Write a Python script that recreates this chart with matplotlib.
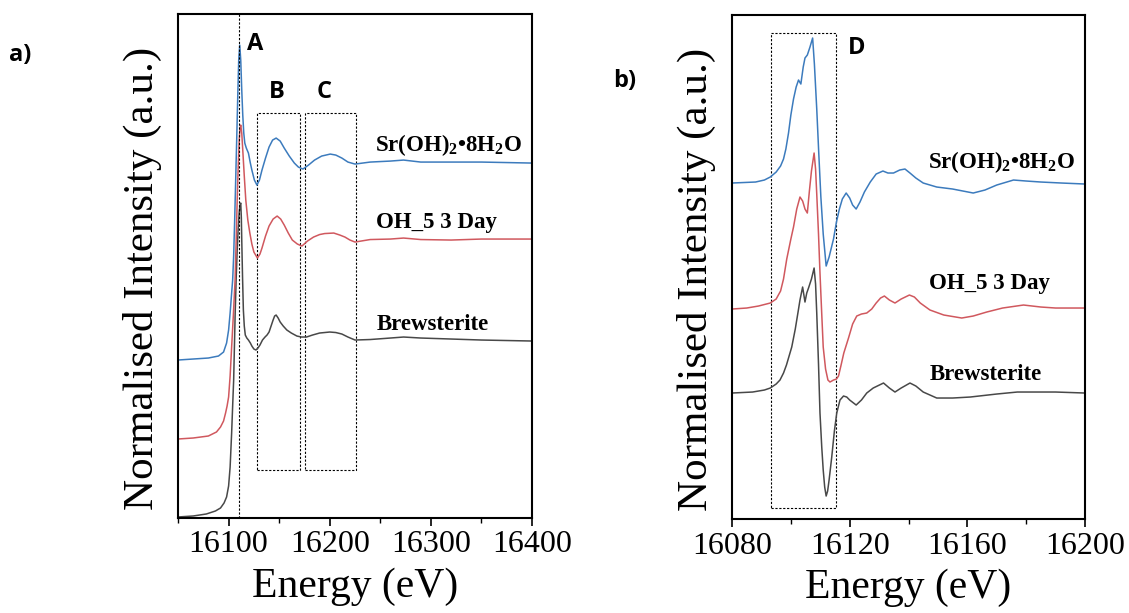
import matplotlib
matplotlib.use('Agg')
import matplotlib.pyplot as plt
from matplotlib.patches import Rectangle
from matplotlib.ticker import MultipleLocator

plt.rcParams['font.family'] = 'Liberation Serif'
plt.rcParams['mathtext.fontset'] = 'custom'
plt.rcParams['mathtext.rm'] = 'Liberation Serif:bold'
plt.rcParams['mathtext.bf'] = 'Liberation Serif:bold'
plt.rcParams['mathtext.default'] = 'rm'

BLUE = '#3c7bbd'
RED = '#d0585e'
GRAY = '#484848'

# ---- panel a) : full XANES, offset curves ----
e_sroh_a = [16050, 16065, 16080, 16090, 16095, 16098, 16100, 16101.5, 16103, 16104,
            16105, 16106, 16107, 16108, 16109, 16110, 16111, 16112, 16113, 16114,
            16115, 16116, 16117.5, 16119.6, 16121.5, 16123, 16125.5, 16128, 16130.5, 16133,
            16136.5, 16140, 16143.5, 16147, 16151, 16155, 16160, 16165, 16169, 16173.5,
            16179, 16185, 16192, 16200.5, 16206, 16212, 16218, 16225, 16240, 16260,
            16273, 16290, 16320, 16350, 16375, 16400]
i_sroh_a = [1.58, 1.59, 1.60, 1.62, 1.66, 1.75, 1.88, 2.05, 2.25, 2.38,
            2.62, 2.98, 3.38, 3.78, 4.20, 4.58, 4.73, 4.58, 4.28, 4.03,
            3.85, 3.75, 3.70, 3.65, 3.55, 3.48, 3.38, 3.33, 3.38, 3.48,
            3.60, 3.71, 3.78, 3.80, 3.77, 3.70, 3.62, 3.55, 3.51, 3.49,
            3.53, 3.58, 3.62, 3.64, 3.63, 3.60, 3.56, 3.54, 3.56, 3.57,
            3.58, 3.56, 3.56, 3.56, 3.555, 3.55]

e_oh5_a = [16050, 16065, 16080, 16088, 16092, 16095, 16097, 16098.5, 16100, 16101.5,
           16103, 16104.7, 16106.4, 16107.5, 16108.5, 16109.5, 16110.5, 16111.3, 16112, 16113,
           16114, 16115.5, 16117, 16119, 16121, 16123, 16125, 16128.5, 16131, 16133,
           16136.5, 16140, 16144, 16148, 16151.5, 16155, 16159, 16163, 16168, 16172.5,
           16178, 16184, 16190, 16195, 16204, 16210, 16215, 16220, 16225, 16240,
           16260, 16273, 16290, 16320, 16350, 16400]
i_oh5_a = [0.79, 0.80, 0.82, 0.86, 0.91, 0.97, 1.05, 1.12, 1.21, 1.42,
           1.71, 2.03, 2.38, 2.78, 3.18, 3.52, 3.78, 3.90, 3.93, 3.85,
           3.68, 3.42, 3.18, 2.98, 2.85, 2.74, 2.66, 2.60, 2.64, 2.70,
           2.82, 2.92, 2.99, 3.02, 2.99, 2.93, 2.85, 2.78, 2.74, 2.72,
           2.77, 2.81, 2.835, 2.845, 2.85, 2.83, 2.81, 2.78, 2.76, 2.785,
           2.79, 2.80, 2.785, 2.78, 2.79, 2.79]

e_brew_a = [16050, 16065, 16078, 16087, 16092, 16095.5, 16098, 16100, 16101.5, 16103,
            16104, 16105, 16106.5, 16107.5, 16108.5, 16109.5, 16110.5, 16111.3, 16112, 16112.6,
            16113, 16113.8, 16114.6, 16115.5, 16116.5, 16118, 16119.6, 16121.5, 16123, 16125,
            16127, 16129, 16131, 16133.5, 16136, 16138, 16140, 16142, 16144, 16145.5,
            16147, 16149, 16151, 16154, 16157.6, 16162, 16167.5, 16172, 16177, 16183,
            16190, 16200, 16206, 16212, 16218, 16225, 16240, 16260, 16273, 16290,
            16320, 16350, 16400]
i_brew_a = [0.01, 0.02, 0.04, 0.07, 0.10, 0.15, 0.21, 0.32, 0.51, 0.85,
            1.12, 1.38, 2.05, 2.40, 2.68, 2.90, 3.06, 3.13, 3.15, 3.00,
            2.78, 2.40, 2.08, 1.92, 1.83, 1.80, 1.78, 1.75, 1.72, 1.69,
            1.68, 1.70, 1.73, 1.78, 1.81, 1.83, 1.86, 1.92, 1.98, 2.02,
            2.03, 2.00, 1.96, 1.92, 1.88, 1.85, 1.82, 1.81, 1.81, 1.83,
            1.85, 1.86, 1.855, 1.84, 1.81, 1.78, 1.785, 1.80, 1.81, 1.80,
            1.79, 1.78, 1.77]

# ---- panel b) : edge region, derivative-like curves ----
e_sroh_b = [16080, 16084, 16088, 16091, 16093, 16095, 16096.5, 16097.5, 16098.3, 16099.2,
            16100, 16100.9, 16101.8, 16102.6, 16103.4, 16104.2, 16104.8, 16105.6, 16106.5, 16107.4,
            16108, 16108.8, 16109.5, 16110.2, 16111, 16112, 16113, 16114.5, 16115.5, 16116.5,
            16117.5, 16118.8, 16120, 16121, 16122.2, 16123.5, 16125, 16127, 16129, 16131.3,
            16133, 16134.9, 16137, 16138.8, 16140.5, 16142.5, 16145, 16149.6, 16155, 16162,
            16166, 16170, 16175.7, 16180, 16185, 16192, 16200]
i_sroh_b = [3.36, 3.365, 3.37, 3.39, 3.42, 3.47, 3.53, 3.60, 3.70, 3.86,
            4.04, 4.20, 4.32, 4.39, 4.35, 4.52, 4.61, 4.64, 4.72, 4.81,
            4.55, 4.10, 3.65, 3.22, 2.85, 2.53, 2.62, 2.80, 2.97, 3.10,
            3.20, 3.26, 3.21, 3.14, 3.10, 3.17, 3.27, 3.37, 3.45, 3.48,
            3.46, 3.46, 3.49, 3.50, 3.46, 3.41, 3.36, 3.32, 3.30, 3.26,
            3.29, 3.34, 3.39, 3.38, 3.37, 3.36, 3.35]

e_oh5_b = [16080, 16085, 16089, 16093, 16095, 16096.5, 16097.5, 16098.6, 16100, 16100.9,
           16102, 16103.1, 16104, 16104.8, 16105.6, 16106.3, 16107, 16107.9, 16108.4, 16108.8,
           16109.4, 16109.9, 16110.5, 16111, 16111.8, 16112.6, 16113.3, 16114.5, 16115.5, 16116.2,
           16117, 16118, 16119.6, 16121, 16122.4, 16124, 16125.8, 16127.5, 16129, 16130.5,
           16131.8, 16133.5, 16135.4, 16137.5, 16140.3, 16142, 16144, 16147.3, 16152, 16158.1,
           16162, 16166.6, 16172, 16179.1, 16185, 16190, 16200]
i_oh5_b = [2.10, 2.11, 2.13, 2.16, 2.20, 2.28, 2.40, 2.60, 2.80, 2.92,
           3.10, 3.22, 3.18, 3.10, 3.06, 3.28, 3.48, 3.66, 3.50, 3.25,
           2.85, 2.46, 2.05, 1.72, 1.50, 1.39, 1.37, 1.39, 1.40, 1.43,
           1.53, 1.66, 1.81, 1.95, 2.03, 2.05, 2.06, 2.10, 2.16, 2.21,
           2.23, 2.19, 2.16, 2.20, 2.24, 2.22, 2.16, 2.09, 2.04, 2.01,
           2.03, 2.07, 2.11, 2.14, 2.12, 2.11, 2.11]

e_brew_b = [16080, 16087, 16091, 16093, 16095, 16096.3, 16097.5, 16098.5, 16099.5, 16100.3,
            16101.5, 16102.5, 16103.1, 16104, 16104.8, 16105.4, 16106, 16107, 16107.9, 16108.4,
            16108.8, 16109.4, 16109.9, 16110.5, 16111, 16111.5, 16112, 16112.5, 16113, 16113.9,
            16114.8, 16115.6, 16116.7, 16117.9, 16119, 16120, 16122.2, 16124, 16125.8, 16128,
            16131.5, 16133.5, 16135.4, 16137.5, 16140.5, 16142.5, 16145, 16149.6, 16155, 16161,
            16170, 16177, 16183.6, 16190, 16200]
i_brew_b = [1.26, 1.27, 1.29, 1.31, 1.35, 1.39, 1.46, 1.54, 1.64, 1.72,
            1.90, 2.08, 2.19, 2.32, 2.17, 2.26, 2.31, 2.40, 2.51, 2.35,
            2.06, 1.55, 1.06, 0.72, 0.49, 0.32, 0.23, 0.28, 0.39, 0.62,
            0.88, 1.06, 1.19, 1.23, 1.22, 1.19, 1.14, 1.19, 1.26, 1.31,
            1.36, 1.31, 1.27, 1.31, 1.36, 1.33, 1.27, 1.21, 1.21, 1.22,
            1.25, 1.27, 1.27, 1.27, 1.26]

names = ['Sr(OH)$_{2}$\u20228H$_{2}$O', 'OH_5 3 Day', 'Brewsterite']

fig = plt.figure(figsize=(11.29, 6.13), dpi=100)
ax1 = fig.add_axes([0.1577, 0.155, 0.3135, 0.822])
ax2 = fig.add_axes([0.6484, 0.1533, 0.3126, 0.8222])

ax1.plot(e_brew_a, i_brew_a, color=GRAY, lw=1.1)
ax1.plot(e_oh5_a, i_oh5_a, color=RED, lw=1.1)
ax1.plot(e_sroh_a, i_sroh_a, color=BLUE, lw=1.1)

ax2.plot(e_brew_b, i_brew_b, color=GRAY, lw=1.1)
ax2.plot(e_oh5_b, i_oh5_b, color=RED, lw=1.1)
ax2.plot(e_sroh_b, i_sroh_b, color=BLUE, lw=1.1)

dots = dict(color='black', lw=0.8, linestyle=(0, (2, 1.5)))

# region markers
ax1.axvline(16110.5, **dots)
ax1.add_patch(Rectangle((16128.5, 0.48), 42.5, 3.57, fill=False, **dots))
ax1.add_patch(Rectangle((16175.7, 0.48), 50.3, 3.57, fill=False, **dots))
ax2.add_patch(Rectangle((16093.3, 0.11), 22.0, 4.75, fill=False, **dots))

lab_font = dict(family='Open Sans', fontweight='bold', fontsize=17, ha='center', va='center')
ax1.text(16126, 4.74, 'A', **lab_font)
ax1.text(16147.7, 4.26, 'B', **lab_font)
ax1.text(16194.6, 4.26, 'C', **lab_font)
ax2.text(16122.4, 4.71, 'D', **lab_font)

name_font = dict(fontsize=16.5, fontweight='bold', ha='left', va='center')
for (x, y), s in zip([(16245, 3.73), (16245.7, 2.96), (16246.7, 1.94)], names):
    ax1.text(x, y, s, **name_font)
for (x, y), s in zip([(16146.6, 3.57), (16147, 2.36), (16147.3, 1.45)], names):
    ax2.text(x, y, s, **name_font)

for ax, lim, major, minor in [(ax1, (16050, 16400), 100, 50), (ax2, (16080, 16200), 40, 20)]:
    ax.set_xlim(*lim)
    ax.set_ylim(0, 5.04)
    ax.xaxis.set_major_locator(MultipleLocator(major))
    ax.xaxis.set_minor_locator(MultipleLocator(minor))
    ax.set_yticks([])
    ax.tick_params(axis='x', which='major', direction='out', length=6, width=1.2,
                   labelsize=23, pad=3)
    ax.tick_params(axis='x', which='minor', direction='out', length=3.5, width=1.0)
    for sp in ax.spines.values():
        sp.set_linewidth(1.5)
    ax.set_xlabel('Energy (eV)', fontsize=30, labelpad=6)
    ax.set_ylabel('Normalised Intensity (a.u.)', fontsize=31)
    ax.yaxis.set_label_coords(-0.045, 0.475)

fig.text(20 / 1129, 1 - 55 / 613, 'a)', family='Open Sans', fontweight='bold', fontsize=17,
         ha='center', va='center')
fig.text(625 / 1129, 1 - 81 / 613, 'b)', family='Open Sans', fontweight='bold', fontsize=17,
         ha='center', va='center')

fig.savefig('out.png', dpi=100)
